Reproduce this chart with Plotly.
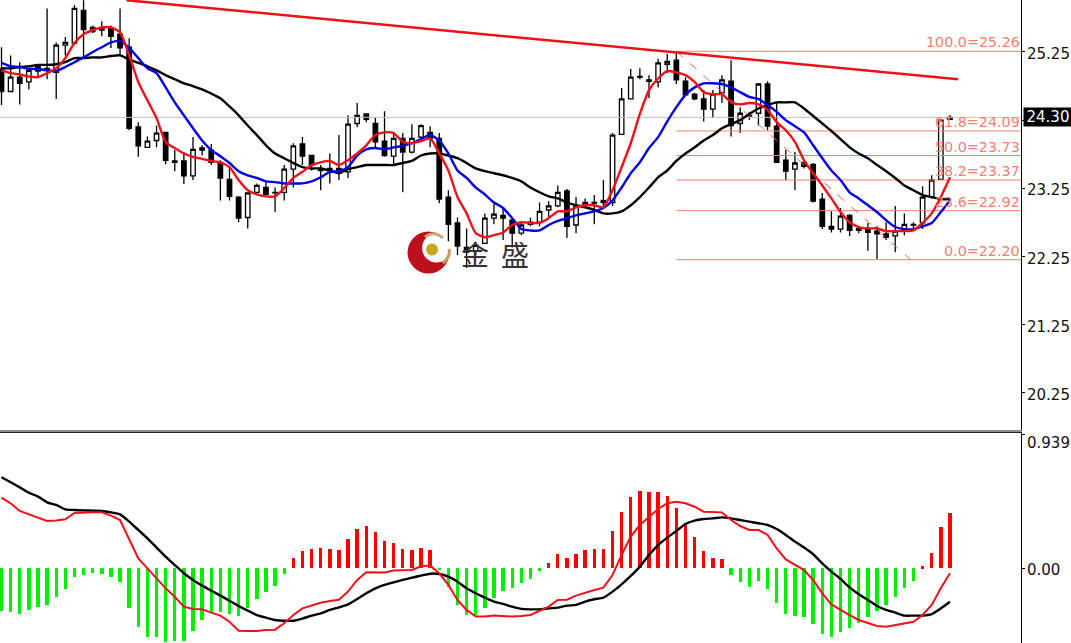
import plotly.graph_objects as go
from plotly.subplots import make_subplots

opens = [25.01,24.67,24.88,24.81,25.04,24.98,24.95,25.35,25.38,25.86,25.55,25.57,25.60,25.51,25.32,24.15,23.85,23.95,24.07,23.65,
 23.65,23.43,23.84,23.81,23.63,23.38,23.12,22.82,23.19,23.26,23.19,23.19,23.53,23.90,23.73,23.54,23.54,23.54,23.49,24.20,
 24.34,24.20,23.94,23.72,23.98,23.78,24.00,24.07,23.98,23.12,22.74,22.38,22.33,22.44,22.81,22.85,22.78,22.59,22.72,22.75,
 22.93,22.99,23.21,22.71,23.01,23.04,23.04,23.04,24.04,24.56,24.89,24.84,24.81,25.07,25.13,24.82,24.63,24.56,24.41,24.65,
 24.82,24.20,24.31,24.35,24.78,24.16,23.66,23.53,23.63,23.60,23.09,22.69,22.65,22.85,22.66,22.66,22.62,22.58,22.55,22.65,
 22.71,22.74,23.12,23.38,24.26]
highs = [25.32,25.20,25.10,25.01,25.06,25.89,25.39,25.47,25.94,26.01,25.64,25.70,25.64,25.89,25.45,24.22,24.01,24.17,24.07,23.81,
 23.78,24.00,23.88,23.90,23.66,23.56,23.13,23.19,23.32,23.34,23.26,23.59,23.91,24.00,23.73,23.59,23.76,24.03,24.32,24.50,
 24.34,24.29,24.38,24.06,24.06,24.19,24.19,24.16,24.06,23.22,22.82,22.66,22.44,22.88,23.04,22.97,22.82,22.75,22.82,23.04,
 23.06,23.29,23.24,23.12,23.10,23.15,23.37,24.06,24.72,25.00,25.01,24.91,25.15,25.22,25.23,24.88,24.65,24.69,24.69,24.91,
 25.13,24.44,24.37,24.79,24.82,24.50,23.81,23.78,23.63,23.62,23.18,22.91,22.96,22.87,22.68,22.74,22.69,22.75,22.99,22.88,
 22.75,23.28,23.44,24.26,24.32]
lows = [24.47,24.66,24.48,24.70,24.88,24.85,24.56,25.20,25.35,25.17,25.53,25.48,25.31,25.20,24.10,23.71,23.84,23.85,23.60,23.50,
 23.31,23.37,23.73,23.59,23.07,23.07,22.75,22.66,23.18,23.15,22.90,23.07,23.26,23.59,23.51,23.22,23.32,23.37,23.40,24.15,
 24.22,23.84,23.71,23.59,23.19,23.76,23.98,23.85,23.03,22.47,22.27,22.08,22.27,22.44,22.72,22.49,22.38,22.56,22.69,22.69,
 22.82,22.97,22.52,22.59,22.97,22.72,22.97,22.99,24.03,24.56,24.85,24.57,24.73,24.94,24.78,24.62,24.54,24.23,24.28,24.50,
 24.01,24.06,24.25,24.17,24.10,23.62,23.37,23.22,23.54,23.04,22.65,22.60,22.60,22.55,22.59,22.33,22.21,22.49,22.31,22.56,
 22.66,22.65,23.10,23.37,24.25]
closes = [24.67,24.88,24.79,24.98,24.97,25.01,25.35,25.39,25.89,25.58,25.61,25.60,25.48,25.31,24.13,23.87,23.94,24.06,23.66,23.63,
 23.43,23.82,23.81,23.63,23.40,23.13,22.81,23.18,23.29,23.16,23.18,23.53,23.87,23.72,23.59,23.51,23.51,23.47,24.19,24.32,
 24.26,23.93,23.73,23.98,23.78,23.98,24.17,23.98,23.09,22.72,22.40,22.31,22.41,22.81,22.87,22.81,22.59,22.71,22.75,22.91,
 22.99,23.19,22.69,22.99,23.04,23.03,23.07,24.03,24.56,24.88,24.88,24.82,25.09,25.11,24.84,24.62,24.56,24.41,24.63,24.84,
 24.17,24.35,24.32,24.78,24.16,23.63,23.50,23.62,23.57,23.06,22.69,22.65,22.84,22.63,22.63,22.60,22.58,22.53,22.62,22.72,
 22.72,23.12,23.37,24.25,24.29]

ma_red = [24.98,24.94,24.92,24.89,24.88,24.94,25.01,25.16,25.38,25.51,25.57,25.61,25.61,25.54,25.20,24.81,24.54,24.28,23.93,23.84,
 23.76,23.71,23.68,23.65,23.63,23.56,23.37,23.22,23.16,23.13,23.13,23.25,23.40,23.49,23.59,23.63,23.65,23.59,23.66,23.76,
 23.88,24.03,24.07,24.06,23.93,23.91,23.94,23.98,23.76,23.51,23.12,22.88,22.59,22.53,22.56,22.60,22.71,22.75,22.74,22.74,
 22.81,22.91,22.91,22.97,23.00,23.00,22.97,23.22,23.56,23.91,24.34,24.69,24.86,24.97,24.95,24.91,24.81,24.66,24.63,24.63,
 24.51,24.48,24.50,24.48,24.40,24.22,24.10,23.93,23.66,23.47,23.29,23.10,22.90,22.75,22.68,22.66,22.66,22.62,22.62,22.62,
 22.63,22.74,22.88,23.12,23.41]
ma_blue = [25.09,25.04,25.03,25.00,25.00,24.98,24.97,25.03,25.10,25.17,25.25,25.32,25.39,25.41,25.31,25.16,25.01,24.94,24.73,24.51,
 24.32,24.13,23.95,23.81,23.72,23.62,23.50,23.44,23.40,23.35,23.34,23.32,23.32,23.32,23.35,23.41,23.49,23.50,23.56,23.73,
 23.82,23.84,23.82,23.85,23.87,23.91,23.97,24.03,23.95,23.76,23.51,23.40,23.26,23.16,23.04,22.96,22.81,22.65,22.63,22.63,
 22.71,22.77,22.81,22.85,22.88,22.91,22.96,23.07,23.26,23.47,23.63,23.84,24.00,24.23,24.44,24.62,24.73,24.79,24.79,24.78,
 24.73,24.66,24.59,24.56,24.47,24.37,24.25,24.16,24.07,23.88,23.69,23.51,23.37,23.19,23.10,23.00,22.90,22.78,22.68,22.65,
 22.65,22.69,22.74,22.90,23.07]
ma_black = [25.01,25.01,25.03,25.04,25.06,25.06,25.07,25.10,25.16,25.16,25.17,25.17,25.19,25.20,25.14,25.09,25.04,24.98,24.91,24.85,
 24.79,24.75,24.70,24.64,24.57,24.45,24.32,24.17,24.03,23.88,23.76,23.69,23.62,23.56,23.54,23.54,23.51,23.47,23.53,23.56,
 23.59,23.59,23.59,23.59,23.62,23.65,23.73,23.76,23.76,23.73,23.69,23.62,23.54,23.50,23.47,23.44,23.40,23.35,23.26,23.19,
 23.13,23.10,23.04,23.00,22.97,22.93,22.88,22.88,22.91,23.00,23.12,23.26,23.41,23.51,23.65,23.76,23.85,23.95,24.03,24.13,
 24.19,24.25,24.34,24.42,24.47,24.51,24.51,24.51,24.42,24.31,24.20,24.09,23.97,23.85,23.76,23.69,23.59,23.50,23.40,23.29,
 23.22,23.15,23.12,23.09,23.09]

macd_hist = [-0.30,-0.305,-0.32,-0.293,-0.275,-0.258,-0.20,-0.148,-0.059,-0.047,-0.03,-0.04,-0.059,-0.094,-0.277,-0.415,-0.481,-0.486,-0.516,-0.512,
 -0.509,-0.439,-0.364,-0.305,-0.31,-0.32,-0.336,-0.282,-0.216,-0.164,-0.122,-0.04,0.075,0.124,0.138,0.141,0.138,0.127,0.204,0.277,
 0.298,0.256,0.19,0.176,0.134,0.131,0.146,0.127,-0.014,-0.129,-0.258,-0.329,-0.329,-0.277,-0.207,-0.157,-0.141,-0.106,-0.075,-0.016,
 0.038,0.103,0.075,0.103,0.127,0.134,0.134,0.26,0.394,0.505,0.547,0.54,0.54,0.512,0.425,0.312,0.22,0.12,0.073,0.068,
 -0.047,-0.094,-0.129,-0.087,-0.143,-0.242,-0.324,-0.338,-0.345,-0.394,-0.46,-0.481,-0.446,-0.423,-0.387,-0.345,-0.30,-0.258,-0.202,-0.136,
 -0.087,0.014,0.11,0.289,0.39]
macd_black = [0.641,0.606,0.570,0.533,0.505,0.465,0.446,0.415,0.411,0.408,0.406,0.404,0.394,0.38,0.329,0.27,0.211,0.146,0.082,0.023,
 -0.035,-0.082,-0.122,-0.157,-0.192,-0.228,-0.265,-0.298,-0.329,-0.347,-0.364,-0.369,-0.369,-0.354,-0.333,-0.317,-0.293,-0.275,-0.254,-0.216,
 -0.176,-0.141,-0.117,-0.099,-0.082,-0.066,-0.052,-0.038,-0.04,-0.059,-0.094,-0.141,-0.176,-0.207,-0.235,-0.251,-0.27,-0.286,-0.289,-0.289,
 -0.282,-0.277,-0.263,-0.258,-0.235,-0.218,-0.207,-0.164,-0.113,-0.054,0.012,0.094,0.164,0.216,0.263,0.312,0.336,0.347,0.352,0.359,
 0.352,0.34,0.329,0.317,0.305,0.277,0.235,0.188,0.146,0.099,0.035,-0.023,-0.075,-0.134,-0.183,-0.223,-0.265,-0.293,-0.312,-0.333,
 -0.333,-0.333,-0.322,-0.282,-0.235]
macd_red = [0.498,0.458,0.404,0.38,0.359,0.333,0.336,0.345,0.39,0.394,0.394,0.394,0.371,0.34,0.2,0.07,0.0,-0.07,-0.141,-0.2,
 -0.27,-0.286,-0.289,-0.312,-0.333,-0.376,-0.439,-0.441,-0.441,-0.434,-0.432,-0.387,-0.329,-0.282,-0.263,-0.242,-0.23,-0.221,-0.164,-0.082,
 -0.028,-0.03,-0.03,-0.016,-0.016,-0.012,0.014,0.019,-0.035,-0.117,-0.223,-0.293,-0.34,-0.34,-0.333,-0.336,-0.34,-0.336,-0.329,-0.30,
 -0.27,-0.223,-0.221,-0.192,-0.171,-0.153,-0.136,-0.047,0.094,0.223,0.305,0.364,0.418,0.458,0.469,0.458,0.434,0.399,0.399,0.394,
 0.34,0.298,0.27,0.27,0.235,0.141,0.063,0.023,-0.012,-0.082,-0.176,-0.254,-0.293,-0.329,-0.364,-0.387,-0.406,-0.411,-0.399,-0.387,
 -0.376,-0.329,-0.258,-0.141,-0.035]

fib_levels = [25.26, 24.09, 23.73, 23.37, 22.92, 22.20]
fib_labels = ["100.0=25.26", "61.8=24.09", "50.0=23.73", "38.2=23.37", "23.6=22.92", "0.0=22.20"]
fib_start = 74
fan_x = [74, 99.7]
fan_y = [25.26, 22.20]
trend_x = [13.7, 104.9]
trend_y = [26.01, 24.85]
last_line = 24.29
price_ticks = [25.25, 24.25, 23.25, 22.25, 21.25, 20.25]
price_tick_text = ["25.25", "", "23.25", "22.25", "21.25", "20.25"]

W, H = 1071, 643
PLOT_R = 1021
SALMON = "#f4806f"
X0, X1 = -0.164, 111.79
idx = list(range(len(closes)))

fig = make_subplots(rows=2, cols=1, shared_xaxes=False, vertical_spacing=0)

fig.add_trace(go.Scatter(x=[X0, X1], y=[last_line, last_line], mode="lines",
                         line=dict(color="#c0c0c0", width=1)), row=1, col=1)
fig.add_trace(go.Candlestick(x=idx, open=opens, high=highs, low=lows, close=closes,
                             whiskerwidth=0,
                             increasing=dict(line=dict(color="#000", width=1.3), fillcolor="#fff"),
                             decreasing=dict(line=dict(color="#000", width=1.3), fillcolor="#000")),
              row=1, col=1)
for lv in fib_levels:
    fig.add_trace(go.Scatter(x=[fib_start, X1], y=[lv, lv], mode="lines",
                             line=dict(color=SALMON, width=1)), row=1, col=1)
fig.add_trace(go.Scatter(x=fan_x, y=fan_y, mode="lines",
                         line=dict(color="#e8605c", width=1, dash="dash")), row=1, col=1)
for vals, col in ((ma_black, "#000000"), (ma_blue, "#0000e6"), (ma_red, "#f01018")):
    fig.add_trace(go.Scatter(x=idx, y=vals, mode="lines",
                             line=dict(color=col, width=2.4, shape="spline", smoothing=0.6)), row=1, col=1)
fig.add_trace(go.Scatter(x=trend_x, y=trend_y, mode="lines",
                         line=dict(color="#f01018", width=2.5)), row=1, col=1)

fig.add_trace(go.Bar(x=idx, y=macd_hist, width=0.37,
                     marker=dict(color=["#ff0000" if v > 0 else "#00f000" for v in macd_hist],
                                 line=dict(width=0))), row=2, col=1)
fig.add_trace(go.Scatter(x=idx, y=macd_black, mode="lines",
                         line=dict(color="#000", width=2.4, shape="spline", smoothing=0.6)), row=2, col=1)
fig.add_trace(go.Scatter(x=idx, y=macd_red, mode="lines", line=dict(color="#f01018", width=2)), row=2, col=1)

axis_font = dict(family="DejaVu Sans", size=15, color="#111")
fig.update_layout(
    width=W, height=H, showlegend=False, plot_bgcolor="#fff", paper_bgcolor="#fff",
    margin=dict(l=0, r=W - PLOT_R, t=0, b=0), bargap=0,
    xaxis=dict(range=[X0, X1], domain=[0, 1], showgrid=False, zeroline=False, showticklabels=False,
               ticks="", rangeslider=dict(visible=False), showline=True, linecolor="#8c8c8c", linewidth=2),
    xaxis2=dict(range=[X0, X1], domain=[0, 1], showgrid=False, zeroline=False, showticklabels=False,
                ticks="", showline=True, mirror=True, linecolor="#222", linewidth=1),
    yaxis=dict(domain=[(H - 430) / H, 1], range=[19.70, 26.013], side="right", showgrid=False, zeroline=False,
               tickvals=price_ticks, ticktext=price_tick_text, ticks="outside", ticklen=3, tickcolor="#000",
               ticklabelstandoff=-1, ticklabelshift=2,
               showline=True, linecolor="#000", linewidth=1, tickfont=axis_font),
    yaxis2=dict(domain=[0, (H - 433) / H], range=[-0.526, 0.953], side="right", showgrid=False, zeroline=False,
                tickvals=[0.939, 0], ticktext=["", "0.00"], ticks="outside", ticklen=3, tickcolor="#000",
                ticklabelstandoff=-1, ticklabelshift=1,
                showline=True, linecolor="#000", linewidth=1, tickfont=axis_font),
)

annos = []
for lv, lab in zip(fib_levels, fib_labels):
    annos.append(dict(xref="paper", yref="y", x=1, xshift=1, y=lv, yshift=-1, text=lab, showarrow=False,
                      xanchor="right", yanchor="bottom", font=dict(family="DejaVu Sans", size=14.3, color=SALMON)))
annos.append(dict(xref="paper", yref="y", x=1023 / PLOT_R, y=24.30, text="24.30", showarrow=False, xanchor="left",
                  yanchor="middle", width=48, height=18, bgcolor="#000", align="center", borderpad=0,
                  font=dict(family="DejaVu Sans", size=15, color="#fff")))
annos.append(dict(xref="paper", yref="y2", x=1025 / PLOT_R, y=0.882, text="0.939", showarrow=False, xanchor="left",
                  yanchor="middle", font=axis_font))
for ch, cx in (("金", 474.5), ("盛", 515)):
    annos.append(dict(xref="paper", yref="paper", x=cx / PLOT_R, y=1 - 253.5 / H, text=ch, showarrow=False,
                      xanchor="center", yanchor="middle",
                      font=dict(family="Noto Sans CJK SC", size=28, color="#3a3030")))
fig.update_layout(annotations=annos)


def px(x):
    return x / PLOT_R


def py(y):
    return 1 - y / H


def circle(cx, cy, r, fill):
    return dict(type="circle", xref="paper", yref="paper", x0=px(cx - r), x1=px(cx + r), y0=py(cy + r), y1=py(cy - r),
                fillcolor=fill, line=dict(width=0), layer="below")


def arc(x0, y0, cx, cy, x1, y1, color, w):
    return dict(type="path", xref="paper", yref="paper",
                path=f"M {px(x0)} {py(y0)} Q {px(cx)} {py(cy)} {px(x1)} {py(y1)}",
                line=dict(color=color, width=w), layer="below")


fig.update_layout(shapes=[
    circle(428.5, 252.5, 21, "#bd101c"),
    circle(436.5, 248, 14.5, "#ffffff"),
    circle(432, 249.5, 6, "#c9a520"),
    arc(425, 237, 434, 230, 443, 238, "#c8a878", 3),
    arc(449, 249, 451, 256, 443, 263, "#c8a060", 3),
])

fig.write_html("out.html", config={"displayModeBar": False},
               post_script="document.body.style.margin='0';")
